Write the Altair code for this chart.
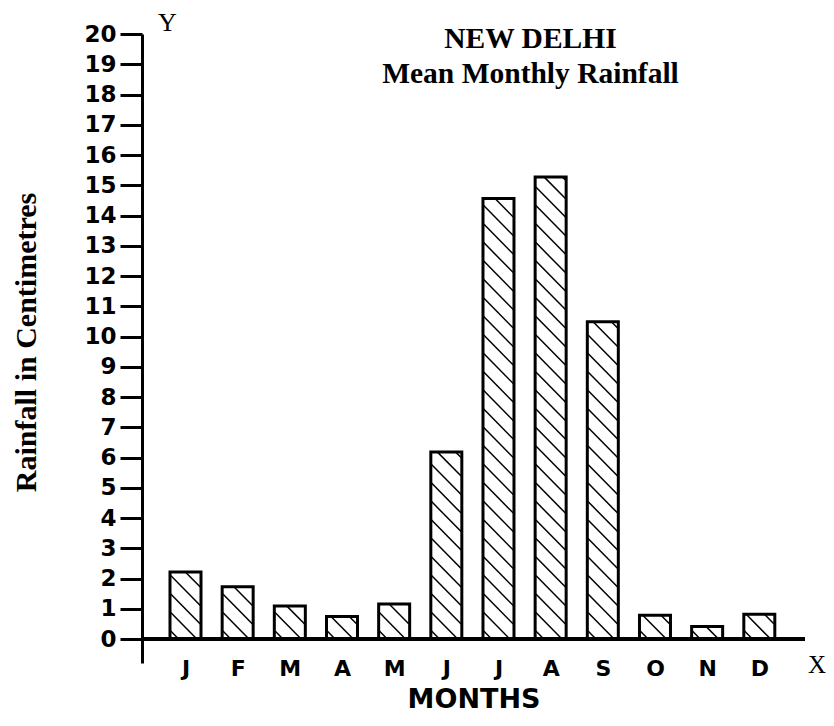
import altair as alt
import pandas as pd

# ---- data ----
MONTH_LABELS = ["J", "F", "M", "A", "M", "J", "J", "A", "S", "O", "N", "D"]
RAINFALL_CM = [2.22, 1.73, 1.09, 0.75, 1.16, 6.18, 14.56, 15.27, 10.49, 0.79, 0.42, 0.82]
Y_TICKS = list(range(0, 21))
TITLE_LINES = ["NEW DELHI", "Mean Monthly Rainfall"]
X_TITLE = "MONTHS"
Y_TITLE = "Rainfall in Centimetres"

month_idx = list(range(1, len(MONTH_LABELS) + 1))
df = pd.DataFrame({"m": month_idx, "label": MONTH_LABELS, "rain": RAINFALL_CM})

# ---- layout ----
W, H = 663, 629
X_DOM = [0.262, 12.78]
Y_DOM = [-0.79, 20]
kx = W / (X_DOM[1] - X_DOM[0])   # px per month
ky = H / (Y_DOM[1] - Y_DOM[0])   # px per cm

BAR_PX = 31
hw = BAR_PX / 2 - 0.5
STEP = 18.5

# hatch segments ("\" direction) clipped to each bar, derived from the values
rows = []
for m, v in zip(month_idx, RAINFALL_CM):
    hp = v * ky
    b = -hw + 8
    while b < hp + hw:
        xs_ = max(-hw, b - hp)
        xe_ = min(hw, b)
        if xe_ - xs_ > 1.5:
            rows.append(dict(x=m + xs_ / kx, y=(b - xs_) / ky,
                             x2=m + xe_ / kx, y2=(b - xe_) / ky))
        b += STEP
hatch_df = pd.DataFrame(rows)

xscale = alt.Scale(domain=X_DOM, nice=False, zero=False)
yscale = alt.Scale(domain=Y_DOM, nice=False, zero=False)

label_expr = "[" + ",".join("'%s'" % l for l in MONTH_LABELS) + "][datum.value-1]"

x_axis = alt.Axis(
    values=month_idx, labelExpr=label_expr, domain=False, ticks=False, grid=False,
    labelPadding=-5, labelFont="DejaVu Sans", labelFontWeight="bold", labelFontSize=22,
    labelColor="black", labelOverlap=False,
    title=X_TITLE, titleFont="DejaVu Sans", titleFontWeight="bold",
    titleFontSize=27, titleColor="black", titleY=44, titleBaseline="alphabetic",
)
y_axis = alt.Axis(
    values=Y_TICKS, tickCount=21, grid=False, domainColor="black", domainWidth=3,
    tickColor="black", tickWidth=3, tickSize=22,
    labelFont="DejaVu Sans", labelFontWeight="bold", labelFontSize=23, labelColor="black",
    labelPadding=4, labelOverlap=False,
    title=Y_TITLE, titleFont="Liberation Serif", titleFontWeight="bold",
    titleFontSize=30, titleColor="black", titleAngle=270, titleX=-116, titleY=308,
    titleAlign="center", titleBaseline="middle",
)

hatch = alt.Chart(hatch_df).mark_rule(color="black", strokeWidth=1.5).encode(
    x=alt.X("x:Q", scale=xscale, axis=x_axis),
    y=alt.Y("y:Q", scale=yscale, axis=y_axis),
    x2="x2:Q",
    y2="y2:Q",
)

bars = alt.Chart(df).mark_bar(size=BAR_PX, fillOpacity=0, stroke="black", strokeWidth=3).encode(
    x=alt.X("m:Q", scale=xscale),
    y=alt.Y("rain:Q", scale=yscale),
    y2=alt.datum(0),
)

x_line = alt.Chart(df).mark_rule(color="black", strokeWidth=3).encode(y=alt.datum(0))

y_letter = alt.Chart(pd.DataFrame({"t": ["Y"]})).mark_text(
    font="Liberation Serif", fontSize=26, baseline="alphabetic", align="center", color="black"
).encode(x=alt.value(25.5), y=alt.value(-3), text="t:N")

x_letter = alt.Chart(pd.DataFrame({"t": ["X"]})).mark_text(
    font="Liberation Serif", fontSize=25, baseline="alphabetic", align="center", color="black"
).encode(x=alt.value(675), y=alt.value(639), text="t:N")

chart = alt.layer(hatch, bars, x_line, y_letter, x_letter).properties(
    width=W, height=H,
    title=alt.TitleParams(
        TITLE_LINES, font="Liberation Serif", fontSize=29.5, fontWeight="bold",
        color="black", anchor="middle", dx=57, dy=83.5, lineHeight=35.5,
    ),
    autosize=alt.AutoSizeParams(type="none"),
    padding={"left": 134, "top": 26, "right": 21, "bottom": 49},
).configure(background="white", view=alt.ViewConfig(stroke="transparent", strokeWidth=0))

chart.save("out.html", embed_options={"renderer": "svg", "actions": False})
